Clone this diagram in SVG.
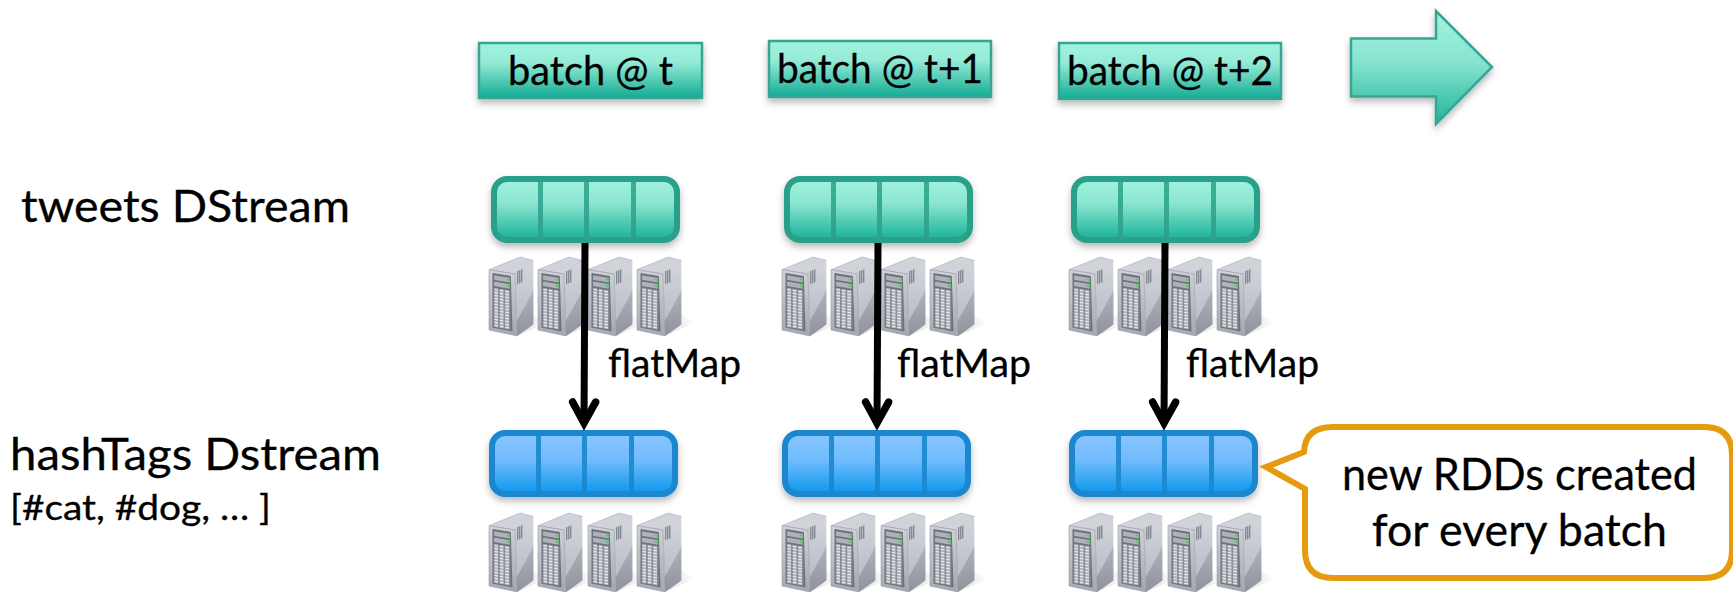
<svg xmlns="http://www.w3.org/2000/svg" width="1733" height="592" viewBox="0 0 1733 592">
<style>
text{font-family:"Lato","Carlito","Open Sans",sans-serif;fill:#000;stroke:#000;stroke-width:.3px;font-size:44px}
.b{font-size:40px}
.f{font-size:38px}
.s{font-size:34px}
.bx{fill:url(#gb);stroke:#37a592;stroke-width:2.500;filter:url(#sh)}
.g{fill:url(#gg);stroke:#2ba08a;stroke-width:6;filter:url(#sh)}
.gd{stroke:#2ba08a;stroke-width:5;stroke-opacity:.85}
.bl{fill:url(#gl);stroke:#1a87ce;stroke-width:6;filter:url(#sh)}
.bd{stroke:#1a87ce;stroke-width:5;stroke-opacity:.9}
.c{fill:none;stroke:#000;stroke-width:7}
</style>
<defs>
<linearGradient id="gb" x1="0" y1="0" x2="0" y2="1"><stop offset="0" stop-color="#a2f3df"/><stop offset=".35" stop-color="#94ebd6"/><stop offset="1" stop-color="#14ab94"/></linearGradient>
<linearGradient id="gg" x1="0" y1="0" x2="0" y2="1"><stop offset="0" stop-color="#a2f3df"/><stop offset=".4" stop-color="#8ae5cf"/><stop offset="1" stop-color="#17b199"/></linearGradient>
<linearGradient id="gl" x1="0" y1="0" x2="0" y2="1"><stop offset="0" stop-color="#88c6ff"/><stop offset=".45" stop-color="#70bbfd"/><stop offset="1" stop-color="#0a97ec"/></linearGradient>
<linearGradient id="ga" x1="0" y1="0" x2="0" y2="1"><stop offset="0" stop-color="#a2f3df"/><stop offset=".45" stop-color="#88e4cf"/><stop offset="1" stop-color="#1fb49c"/></linearGradient>
<linearGradient id="sd" x1="0" y1="0" x2="0" y2="1"><stop offset="0" stop-color="#d3d6dd"/><stop offset="1" stop-color="#b4b7c0"/></linearGradient>
<linearGradient id="sl" x1="0" y1="0" x2="0" y2="1"><stop offset="0" stop-color="#b0b3bb"/><stop offset="1" stop-color="#8e929b"/></linearGradient>
<linearGradient id="sf" x1="0" y1="0" x2="0" y2="1"><stop offset="0" stop-color="#cfd2d8"/><stop offset="1" stop-color="#a5a8b0"/></linearGradient>
<linearGradient id="ss" x1="0" y1="0" x2="1" y2="0"><stop offset="0" stop-color="#000" stop-opacity=".12"/><stop offset="1" stop-color="#000" stop-opacity="0"/></linearGradient>
<filter id="sh" x="-10%" y="-15%" width="120%" height="140%"><feDropShadow dx="0" dy="4" stdDeviation="3.500" flood-color="#000" flood-opacity=".28"/></filter>
<pattern id="cells" width="5.400" height="3" patternUnits="userSpaceOnUse" x="4.600" y="30"><rect width="5.400" height="3" fill="#767b85"/><rect x=".6" y=".5" width="4.100" height="2" fill="#eceef2"/></pattern>
<marker id="ah" markerUnits="userSpaceOnUse" markerWidth="44" markerHeight="36" viewBox="-32 -18 44 36" refX="-1" refY="0" orient="auto" overflow="visible">
<path d="M-21,-11.500 L0,0 L-21,11.500" fill="none" stroke="#000" stroke-width="7.500" stroke-linecap="round" stroke-linejoin="miter" stroke-miterlimit="10"/>
</marker>
<g id="server">
<polygon points="44,58 58,66 44,72 30,78" fill="url(#ss)"/>
<polygon points="0,12.700 31,0 44.300,3.400 26,17" fill="#d0d3da" stroke="#a6a9b1" stroke-width=".6"/>
<polygon points="26,17 44.300,3.400 44.300,67.500 28,79" fill="url(#sd)"/>
<path d="M27.300,65 C32,56 36,50 44.300,33 V67.500 L28,79 Z" fill="url(#sl)"/>
<polygon points="0,12.700 26,17 28,79 0,73" fill="url(#sf)" stroke="#979aa3" stroke-width=".6"/>
<polygon points="3.500,16 21.800,19 23.500,74.500 3.500,70.500" fill="#6d727b"/>
<g transform="matrix(1,.17,0,1,0,0)">
<rect x="4.600" y="17" width="16.600" height="5.400" fill="#aeb2ba" stroke="#555a63" stroke-width=".5"/>
<rect x="4.600" y="23.200" width="16.600" height="5.400" fill="#aeb2ba" stroke="#555a63" stroke-width=".5"/>
<rect x="17.800" y="18.800" width="2.800" height="1.500" fill="#2fe02f"/>
<rect x="17.800" y="25" width="2.800" height="1.500" fill="#2fe02f"/>
<rect x="4.600" y="30" width="16.600" height="39" fill="url(#cells)"/>
</g>
<g transform="matrix(1,-.35,0,1,0,10)" fill="#868a94">
<rect x="28" y="14" width="1.400" height="13"/><rect x="30" y="14" width="1.400" height="13"/><rect x="32" y="14" width="1.400" height="13"/>
</g>
</g>
<g id="servers">
<use href="#server" x="0"/><use href="#server" x="49"/><use href="#server" x="99"/><use href="#server" x="148"/>
</g>
</defs>

<g id="batch1"><rect class="bx" x="479" y="43" width="223" height="55"/><text class="b" x="508" y="85" textLength="165" lengthAdjust="spacingAndGlyphs">batch @ t</text></g>
<g id="batch2"><rect class="bx" x="769" y="41" width="222" height="56"/><text class="b" x="777" y="83" textLength="206" lengthAdjust="spacingAndGlyphs">batch @ t+1</text></g>
<g id="batch3"><rect class="bx" x="1059" y="43" width="222" height="56"/><text class="b" x="1067" y="85" textLength="206" lengthAdjust="spacingAndGlyphs">batch @ t+2</text></g>
<g id="time-arrow"><polygon class="bx" points="1351,38.500 1436,38.500 1436,11 1492,67 1436,124 1436,96.500 1351,96.500" style="fill:url(#ga)"/></g>

<g id="label-tweets"><text x="21" y="222" textLength="329" lengthAdjust="spacingAndGlyphs">tweets DStream</text></g>
<g id="label-hashtags"><text x="10" y="470" textLength="371" lengthAdjust="spacingAndGlyphs">hashTags Dstream</text><text class="s" x="10" y="520" textLength="261" lengthAdjust="spacingAndGlyphs">[#cat, #dog, … ]</text></g>

<g id="servers-tweets">
<use href="#servers" x="489" y="257"/><use href="#servers" x="782" y="257"/><use href="#servers" x="1069" y="257"/>
</g>
<g id="servers-hashtags">
<use href="#servers" x="489" y="513"/><use href="#servers" x="782" y="513"/><use href="#servers" x="1069" y="513"/>
</g>

<g id="tweets-t"><rect class="g" x="494" y="179" width="183" height="61" rx="13"/><path class="gd" d="M540.500 179V240M586.500 179V240M633.500 179V240"/></g>
<g id="tweets-t1"><rect class="g" x="787" y="179" width="183" height="61" rx="13"/><path class="gd" d="M833.500 179V240M879.500 179V240M926.500 179V240"/></g>
<g id="tweets-t2"><rect class="g" x="1074" y="179" width="183" height="61" rx="13"/><path class="gd" d="M1120.500 179V240M1166.500 179V240M1213.500 179V240"/></g>

<g id="hashtags-t"><rect class="bl" x="492" y="433" width="183" height="61" rx="13"/><path class="bd" d="M538.500 433V494M584.500 433V494M631.500 433V494"/></g>
<g id="hashtags-t1"><rect class="bl" x="785" y="433" width="183" height="61" rx="13"/><path class="bd" d="M831.500 433V494M877.500 433V494M924.500 433V494"/></g>
<g id="hashtags-t2"><rect class="bl" x="1072" y="433" width="183" height="61" rx="13"/><path class="bd" d="M1118.500 433V494M1164.500 433V494M1211.500 433V494"/></g>

<g id="connectors">
<line class="c" x1="585" y1="243" x2="584" y2="422" marker-end="url(#ah)"/>
<line class="c" x1="878" y1="243" x2="877" y2="422" marker-end="url(#ah)"/>
<line class="c" x1="1165" y1="243" x2="1164" y2="422" marker-end="url(#ah)"/>
</g>
<g id="label-flatmap">
<text class="f" x="608" y="377" textLength="133" lengthAdjust="spacingAndGlyphs">flatMap</text>
<text class="f" x="897" y="377" textLength="134" lengthAdjust="spacingAndGlyphs">flatMap</text>
<text class="f" x="1186" y="377" textLength="133" lengthAdjust="spacingAndGlyphs">flatMap</text>
</g>

<g id="callout">
<path d="M1333,427 H1704 Q1732,427 1732,455 V550 Q1732,578 1704,578 H1333 Q1305,578 1305,550 V489 L1266,467 L1304,452 Q1305,427 1333,427 Z" fill="#fff" stroke="#e69a10" stroke-width="6" stroke-miterlimit="10"/>
<text x="1342" y="490" textLength="355" lengthAdjust="spacingAndGlyphs">new RDDs created</text>
<text x="1372" y="546" textLength="295" lengthAdjust="spacingAndGlyphs">for every batch</text>
</g>
</svg>
